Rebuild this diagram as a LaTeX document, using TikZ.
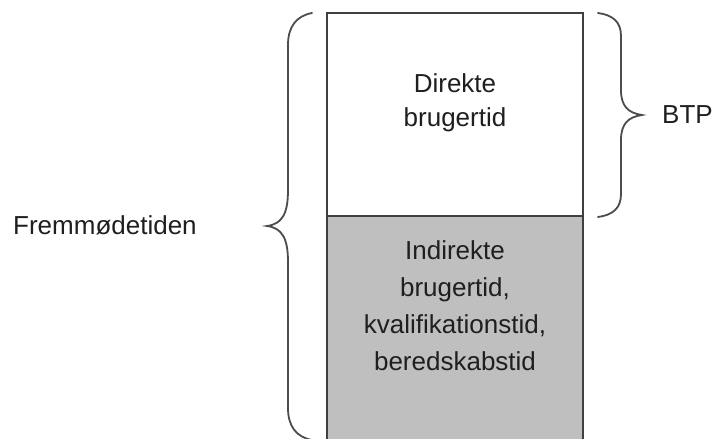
\documentclass[tikz,border=0pt]{standalone}
\usepackage{fontspec}
\setmainfont{Liberation Sans}
\begin{document}
\begin{tikzpicture}[x=1pt,y=-1pt,
  boxline/.style={draw=black!75, line width=1.8pt},
  braceline/.style={draw=black!70, line width=1.8pt, line cap=round},
  lbl/.style={inner sep=0pt, text=black!88, font=\fontsize{26}{34}\selectfont},
  boxtext/.style={lbl, align=center, anchor=north}]
\useasboundingbox (0,0) rectangle (716,439);
\fill[white] (0,0) rectangle (716,439);
% box
\fill[black!25] (327,216) rectangle (583,445);
\draw[boxline] (327,445) -- (327,13) -- (583,13) -- (583,445);
\draw[boxline] (327,216) -- (583,216);
% left brace
\draw[braceline] (312,13) .. controls (296,16) and (288,27) .. (288,45) -- (288,190)
  .. controls (288,214) and (282,224) .. (267,226)
  .. controls (282,228) and (288,238) .. (288,262) -- (288,408)
  .. controls (288,426) and (296,437) .. (312,440);
% right brace
\draw[braceline] (598,13) .. controls (613,15) and (621,22) .. (621,36) -- (621,90)
  .. controls (621,106) and (628,113) .. (642,115)
  .. controls (628,117) and (621,124) .. (621,140) -- (621,194)
  .. controls (621,208) and (613,215) .. (598,217);
% texts
\node[lbl, anchor=base west] (fremmode) at (13,234) {Fremmødetiden};
\node[lbl, anchor=base west] (btp) at (662,123) {BTP};
\node[boxtext, font=\fontsize{26}{34.7}\selectfont] (direkte) at (455,73) {Direkte\\brugertid};
\node[boxtext, font=\fontsize{26}{37}\selectfont] (indirekte) at (455,240) {Indirekte\\brugertid,\\kvalifikationstid,\\beredskabstid};
\end{tikzpicture}
\end{document}
